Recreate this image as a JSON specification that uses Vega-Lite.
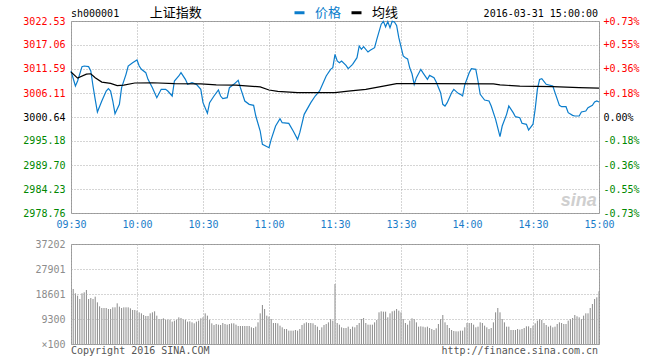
{
  "$schema": "https://vega.github.io/schema/vega-lite/v6.json",
  "background": "white",
  "padding": {"left": 22, "top": 5, "right": 0, "bottom": 0},
  "spacing": 8,
  "config": {
    "view": {"stroke": "#999", "strokeWidth": 1},
    "font": "DejaVu Sans Mono",
    "axis": {"labelFont": "DejaVu Sans Mono", "labelFontSize": 10, "gridColor": "#aaa", "gridDash": [1, 2], "gridWidth": 1, "domain": false, "ticks": false, "title": null}
  },
  "datasets": {
    "price": [
      {"m":0,"p":3011.13,"s":"价格"},{"m":2,"p":3007.71,"s":"价格"},{"m":3,"p":3008.85,"s":"价格"},{"m":5,"p":3012.12,"s":"价格"},{"m":6,"p":3012.27,"s":"价格"},{"m":8,"p":3012.12,"s":"价格"},{"m":9,"p":3011.13,"s":"价格"},{"m":10,"p":3007.71,"s":"价格"},{"m":11,"p":3004.67,"s":"价格"},{"m":12,"p":3001.78,"s":"价格"},{"m":14,"p":3004.29,"s":"价格"},{"m":16,"p":3006.57,"s":"价格"},{"m":17,"p":3007.10,"s":"价格"},{"m":18,"p":3006.57,"s":"价格"},{"m":19,"p":3004.29,"s":"价格"},{"m":20,"p":3001.40,"s":"价格"},{"m":22,"p":3003.53,"s":"价格"},{"m":23,"p":3007.33,"s":"价格"},{"m":25,"p":3010.37,"s":"价格"},{"m":26,"p":3012.27,"s":"价格"},{"m":28,"p":3013.03,"s":"价格"},{"m":30,"p":3013.64,"s":"价格"},{"m":31,"p":3012.27,"s":"价格"},{"m":32,"p":3011.51,"s":"价格"},{"m":34,"p":3010.75,"s":"价格"},{"m":35,"p":3009.23,"s":"价格"},{"m":37,"p":3007.33,"s":"价格"},{"m":39,"p":3005.05,"s":"价格"},{"m":41,"p":3006.95,"s":"价格"},{"m":43,"p":3006.95,"s":"价格"},{"m":44,"p":3006.57,"s":"价格"},{"m":46,"p":3005.43,"s":"价格"},{"m":47,"p":3008.85,"s":"价格"},{"m":49,"p":3009.99,"s":"价格"},{"m":50,"p":3010.75,"s":"价格"},{"m":52,"p":3009.23,"s":"价格"},{"m":53,"p":3008.09,"s":"价格"},{"m":55,"p":3008.47,"s":"价格"},{"m":57,"p":3008.09,"s":"价格"},{"m":59,"p":3006.95,"s":"价格"},{"m":60,"p":3003.91,"s":"价格"},{"m":62,"p":3001.48,"s":"价格"},{"m":63,"p":3003.91,"s":"价格"},{"m":65,"p":3005.43,"s":"价格"},{"m":67,"p":3006.80,"s":"价格"},{"m":68,"p":3005.43,"s":"价格"},{"m":69,"p":3004.82,"s":"价格"},{"m":71,"p":3005.05,"s":"价格"},{"m":72,"p":3007.33,"s":"价格"},{"m":74,"p":3008.09,"s":"价格"},{"m":76,"p":3009.00,"s":"价格"},{"m":77,"p":3007.33,"s":"价格"},{"m":79,"p":3004.29,"s":"价格"},{"m":81,"p":3003.53,"s":"价格"},{"m":83,"p":3003.30,"s":"价格"},{"m":84,"p":3000.87,"s":"价格"},{"m":86,"p":2997.45,"s":"价格"},{"m":87,"p":2994.41,"s":"价格"},{"m":90,"p":2993.65,"s":"价格"},{"m":91,"p":2995.55,"s":"价格"},{"m":93,"p":2998.59,"s":"价格"},{"m":95,"p":3000.26,"s":"价格"},{"m":96,"p":2999.35,"s":"价格"},{"m":99,"p":2999.20,"s":"价格"},{"m":101,"p":2997.45,"s":"价格"},{"m":103,"p":2995.55,"s":"价格"},{"m":104,"p":2997.07,"s":"价格"},{"m":106,"p":3001.25,"s":"价格"},{"m":109,"p":3003.91,"s":"价格"},{"m":111,"p":3005.43,"s":"价格"},{"m":113,"p":3006.57,"s":"价格"},{"m":115,"p":3008.85,"s":"价格"},{"m":116,"p":3009.99,"s":"价格"},{"m":118,"p":3011.51,"s":"价格"},{"m":119,"p":3011.89,"s":"价格"},{"m":120,"p":3014.93,"s":"价格"},{"m":121,"p":3013.41,"s":"价格"},{"m":122,"p":3013.03,"s":"价格"},{"m":123,"p":3013.41,"s":"价格"},{"m":125,"p":3012.42,"s":"价格"},{"m":126,"p":3011.66,"s":"价格"},{"m":128,"p":3012.65,"s":"价格"},{"m":130,"p":3014.17,"s":"价格"},{"m":131,"p":3016.83,"s":"价格"},{"m":132,"p":3016.07,"s":"价格"},{"m":133,"p":3016.68,"s":"价格"},{"m":135,"p":3015.46,"s":"价格"},{"m":136,"p":3015.84,"s":"价格"},{"m":138,"p":3016.45,"s":"价格"},{"m":139,"p":3018.35,"s":"价格"},{"m":141,"p":3021.80,"s":"价格"},{"m":142,"p":3022.45,"s":"价格"},{"m":143,"p":3021.20,"s":"价格"},{"m":144,"p":3022.40,"s":"价格"},{"m":145,"p":3021.00,"s":"价格"},{"m":146,"p":3022.45,"s":"价格"},{"m":147,"p":3022.30,"s":"价格"},{"m":148,"p":3021.50,"s":"价格"},{"m":149,"p":3018.73,"s":"价格"},{"m":151,"p":3014.55,"s":"价格"},{"m":152,"p":3014.17,"s":"价格"},{"m":153,"p":3013.90,"s":"价格"},{"m":154,"p":3011.80,"s":"价格"},{"m":155,"p":3010.50,"s":"价格"},{"m":156,"p":3008.09,"s":"价格"},{"m":157,"p":3009.61,"s":"价格"},{"m":159,"p":3011.51,"s":"价格"},{"m":160,"p":3010.70,"s":"价格"},{"m":162,"p":3009.23,"s":"价格"},{"m":163,"p":3010.14,"s":"价格"},{"m":165,"p":3009.61,"s":"价格"},{"m":166,"p":3008.60,"s":"价格"},{"m":168,"p":3006.19,"s":"价格"},{"m":169,"p":3003.53,"s":"价格"},{"m":170,"p":3003.15,"s":"价格"},{"m":171,"p":3003.91,"s":"价格"},{"m":173,"p":3006.19,"s":"价格"},{"m":174,"p":3006.95,"s":"价格"},{"m":176,"p":3006.04,"s":"价格"},{"m":177,"p":3005.81,"s":"价格"},{"m":178,"p":3005.43,"s":"价格"},{"m":179,"p":3008.00,"s":"价格"},{"m":181,"p":3010.75,"s":"价格"},{"m":182,"p":3011.66,"s":"价格"},{"m":184,"p":3011.51,"s":"价格"},{"m":185,"p":3008.85,"s":"价格"},{"m":186,"p":3005.81,"s":"价格"},{"m":188,"p":3004.52,"s":"价格"},{"m":190,"p":3004.29,"s":"价格"},{"m":191,"p":3003.15,"s":"价格"},{"m":193,"p":3000.11,"s":"价格"},{"m":195,"p":2996.16,"s":"价格"},{"m":196,"p":2998.59,"s":"价格"},{"m":198,"p":3001.25,"s":"价格"},{"m":199,"p":3003.15,"s":"价格"},{"m":201,"p":3001.63,"s":"价格"},{"m":202,"p":3000.72,"s":"价格"},{"m":204,"p":3000.49,"s":"价格"},{"m":205,"p":2999.20,"s":"价格"},{"m":207,"p":2998.97,"s":"价格"},{"m":208,"p":2997.68,"s":"价格"},{"m":210,"p":2999.00,"s":"价格"},{"m":211,"p":3002.50,"s":"价格"},{"m":212,"p":3007.00,"s":"价格"},{"m":213,"p":3009.20,"s":"价格"},{"m":214,"p":3009.38,"s":"价格"},{"m":216,"p":3008.09,"s":"价格"},{"m":219,"p":3007.71,"s":"价格"},{"m":220,"p":3006.19,"s":"价格"},{"m":222,"p":3003.30,"s":"价格"},{"m":223,"p":3003.00,"s":"价格"},{"m":225,"p":3003.00,"s":"价格"},{"m":226,"p":3001.63,"s":"价格"},{"m":228,"p":3001.02,"s":"价格"},{"m":229,"p":3000.87,"s":"价格"},{"m":231,"p":3000.87,"s":"价格"},{"m":232,"p":3001.78,"s":"价格"},{"m":234,"p":3002.01,"s":"价格"},{"m":235,"p":3002.77,"s":"价格"},{"m":237,"p":3003.30,"s":"价格"},{"m":238,"p":3004.06,"s":"价格"},{"m":239,"p":3004.30,"s":"价格"},{"m":240,"p":3004.06,"s":"价格"},
      {"m":0,"p":3010.9,"s":"均线"},{"m":3,"p":3009.5,"s":"均线"},{"m":7,"p":3010.4,"s":"均线"},{"m":9,"p":3010.5,"s":"均线"},{"m":11,"p":3009.6,"s":"均线"},{"m":14,"p":3008.6,"s":"均线"},{"m":18,"p":3008.3,"s":"均线"},{"m":21,"p":3007.8,"s":"均线"},{"m":24,"p":3007.9,"s":"均线"},{"m":29,"p":3008.4,"s":"均线"},{"m":37,"p":3008.45,"s":"均线"},{"m":47,"p":3008.25,"s":"均线"},{"m":59,"p":3008.2,"s":"均线"},{"m":66,"p":3007.95,"s":"均线"},{"m":75,"p":3007.9,"s":"均线"},{"m":81,"p":3007.7,"s":"均线"},{"m":86,"p":3007.5,"s":"均线"},{"m":90,"p":3006.8,"s":"均线"},{"m":94,"p":3006.5,"s":"均线"},{"m":103,"p":3006.2,"s":"均线"},{"m":120,"p":3006.2,"s":"均线"},{"m":126,"p":3006.55,"s":"均线"},{"m":134,"p":3006.95,"s":"均线"},{"m":142,"p":3007.7,"s":"均线"},{"m":148,"p":3008.25,"s":"均线"},{"m":164,"p":3008.25,"s":"均线"},{"m":192,"p":3008.2,"s":"均线"},{"m":195,"p":3007.95,"s":"均线"},{"m":204,"p":3007.7,"s":"均线"},{"m":219,"p":3007.55,"s":"均线"},{"m":231,"p":3007.35,"s":"均线"},{"m":240,"p":3007.25,"s":"均线"}
    ],
    "volume": [
      {"m":1,"v":20460},{"m":2,"v":18848},{"m":3,"v":17980},{"m":4,"v":16740},{"m":5,"v":18848},{"m":6,"v":19220},{"m":7,"v":20088},{"m":8,"v":16740},{"m":9,"v":17112},{"m":10,"v":16740},
      {"m":11,"v":17608},{"m":12,"v":15500},{"m":13,"v":14012},{"m":14,"v":13392},{"m":15,"v":13392},{"m":16,"v":13392},{"m":17,"v":13020},{"m":18,"v":13020},{"m":19,"v":13640},{"m":20,"v":13640},
      {"m":21,"v":15128},{"m":22,"v":13888},{"m":23,"v":13392},{"m":24,"v":13640},{"m":25,"v":13640},{"m":26,"v":13640},{"m":27,"v":13268},{"m":28,"v":12648},{"m":29,"v":12648},{"m":30,"v":12400},
      {"m":31,"v":11780},{"m":32,"v":11408},{"m":33,"v":10788},{"m":34,"v":10416},{"m":35,"v":10416},{"m":36,"v":11408},{"m":37,"v":11780},{"m":38,"v":12152},{"m":39,"v":10540},{"m":40,"v":9300},
      {"m":41,"v":9300},{"m":42,"v":9548},{"m":43,"v":9052},{"m":44,"v":9052},{"m":45,"v":9052},{"m":46,"v":8308},{"m":47,"v":8680},{"m":48,"v":9052},{"m":49,"v":9920},{"m":50,"v":9672},
      {"m":51,"v":9176},{"m":52,"v":9052},{"m":53,"v":8308},{"m":54,"v":8432},{"m":55,"v":8060},{"m":56,"v":7688},{"m":57,"v":8308},{"m":58,"v":8680},{"m":59,"v":9548},{"m":60,"v":9920},
      {"m":61,"v":11408},{"m":62,"v":10540},{"m":63,"v":9052},{"m":64,"v":7688},{"m":65,"v":7068},{"m":66,"v":7440},{"m":67,"v":7192},{"m":68,"v":7068},{"m":69,"v":7812},{"m":70,"v":7440},
      {"m":71,"v":7192},{"m":72,"v":7440},{"m":73,"v":7688},{"m":74,"v":7688},{"m":75,"v":7192},{"m":76,"v":6696},{"m":77,"v":6696},{"m":78,"v":6696},{"m":79,"v":6696},{"m":80,"v":6696},
      {"m":81,"v":6696},{"m":82,"v":6200},{"m":83,"v":5952},{"m":84,"v":6448},{"m":85,"v":8060},{"m":86,"v":11408},{"m":87,"v":14508},{"m":88,"v":13020},{"m":89,"v":10540},{"m":90,"v":10168},
      {"m":91,"v":9300},{"m":92,"v":7812},{"m":93,"v":7812},{"m":94,"v":7688},{"m":95,"v":6820},{"m":96,"v":6200},{"m":97,"v":5580},{"m":98,"v":5580},{"m":99,"v":4960},{"m":100,"v":4960},
      {"m":101,"v":4960},{"m":102,"v":5208},{"m":103,"v":4960},{"m":104,"v":5580},{"m":105,"v":7068},{"m":106,"v":7688},{"m":107,"v":8060},{"m":108,"v":7812},{"m":109,"v":7812},{"m":110,"v":7688},
      {"m":111,"v":7068},{"m":112,"v":6448},{"m":113,"v":5208},{"m":114,"v":6200},{"m":115,"v":7068},{"m":116,"v":7440},{"m":117,"v":8060},{"m":118,"v":9300},{"m":119,"v":8680},{"m":120,"v":22320},
      {"m":121,"v":7812},{"m":122,"v":7192},{"m":123,"v":6200},{"m":124,"v":5952},{"m":125,"v":5952},{"m":126,"v":6448},{"m":127,"v":5580},{"m":128,"v":6448},{"m":129,"v":6200},{"m":130,"v":7068},
      {"m":131,"v":7812},{"m":132,"v":9300},{"m":133,"v":9672},{"m":134,"v":7812},{"m":135,"v":7192},{"m":136,"v":7192},{"m":137,"v":7192},{"m":138,"v":8060},{"m":139,"v":8928},{"m":140,"v":11780},
      {"m":141,"v":12152},{"m":142,"v":12028},{"m":143,"v":12028},{"m":144,"v":9920},{"m":145,"v":11408},{"m":146,"v":12152},{"m":147,"v":12400},{"m":148,"v":13020},{"m":149,"v":12400},{"m":150,"v":11780},
      {"m":151,"v":9300},{"m":152,"v":7812},{"m":153,"v":7192},{"m":154,"v":8680},{"m":155,"v":9548},{"m":156,"v":9300},{"m":157,"v":8060},{"m":158,"v":6448},{"m":159,"v":6572},{"m":160,"v":6448},
      {"m":161,"v":6200},{"m":162,"v":6448},{"m":163,"v":5952},{"m":164,"v":5580},{"m":165,"v":5208},{"m":166,"v":5828},{"m":167,"v":7440},{"m":168,"v":9300},{"m":169,"v":10788},{"m":170,"v":8060},
      {"m":171,"v":7068},{"m":172,"v":5952},{"m":173,"v":5208},{"m":174,"v":4836},{"m":175,"v":4712},{"m":176,"v":4712},{"m":177,"v":4960},{"m":178,"v":4960},{"m":179,"v":6200},{"m":180,"v":7812},
      {"m":181,"v":7812},{"m":182,"v":7812},{"m":183,"v":7192},{"m":184,"v":6200},{"m":185,"v":6448},{"m":186,"v":8060},{"m":187,"v":7812},{"m":188,"v":6820},{"m":189,"v":6200},{"m":190,"v":5580},
      {"m":191,"v":5952},{"m":192,"v":8060},{"m":193,"v":11780},{"m":194,"v":13392},{"m":195,"v":11780},{"m":196,"v":9300},{"m":197,"v":8060},{"m":198,"v":6448},{"m":199,"v":6448},{"m":200,"v":5208},
      {"m":201,"v":5208},{"m":202,"v":5208},{"m":203,"v":5580},{"m":204,"v":5332},{"m":205,"v":5580},{"m":206,"v":5952},{"m":207,"v":6572},{"m":208,"v":6572},{"m":209,"v":5952},{"m":210,"v":6820},
      {"m":211,"v":7688},{"m":212,"v":8680},{"m":213,"v":9300},{"m":214,"v":8928},{"m":215,"v":7812},{"m":216,"v":7068},{"m":217,"v":6448},{"m":218,"v":6820},{"m":219,"v":6200},{"m":220,"v":6448},
      {"m":221,"v":7440},{"m":222,"v":8060},{"m":223,"v":7812},{"m":224,"v":7440},{"m":225,"v":7440},{"m":226,"v":8680},{"m":227,"v":9300},{"m":228,"v":9672},{"m":229,"v":10788},{"m":230,"v":10292},
      {"m":231,"v":9920},{"m":232,"v":9300},{"m":233,"v":10540},{"m":234,"v":11408},{"m":235,"v":11408},{"m":236,"v":13392},{"m":237,"v":14880},{"m":238,"v":16740},{"m":239,"v":17360},{"m":240,"v":19592}
    ]
  },
  "resolve": {"legend": {"color": "independent"}},
  "vconcat": [
    {
      "width": 528,
      "height": 192,
      "resolve": {"axis": {"y": "independent"}},
      "layer": [
        {
          "data": {"name": "price"},
          "mark": {"type": "line", "strokeWidth": 1.2},
          "encoding": {
            "x": {"field": "m", "type": "quantitative",
              "scale": {"domain": [0, 240], "nice": false, "zero": false},
              "axis": {"values": [0, 30, 60, 90, 120, 150, 180, 210, 240], "tickCount": 9, "labelExpr": "['09:30','10:00','10:30','11:00','11:30','13:30','14:00','14:30','15:00'][round(datum.value/30)]", "grid": true, "labelColor": "#1a7cc9", "labelPadding": 6, "labelOverlap": false, "labelFlush": false}},
            "y": {"field": "p", "type": "quantitative",
              "scale": {"domain": [2978.76, 3022.53], "nice": false, "zero": false},
              "axis": {"orient": "left", "values": [2978.76, 2984.23, 2989.70, 2995.18, 3000.64, 3006.11, 3011.59, 3017.06, 3022.53], "tickCount": 9, "format": ".2f", "grid": true, "labelPadding": 6, "labelOverlap": false, "labelFlush": false,
                "labelColor": {"condition": [{"test": "datum.value > 3001", "value": "#f00"}, {"test": "datum.value < 3000", "value": "#080"}], "value": "#000"}}},
            "color": {"field": "s", "type": "nominal",
              "scale": {"domain": ["价格", "均线"], "range": ["#0b7dcc", "#000000"]},
              "legend": {"orient": "none", "legendX": 222, "legendY": -15, "direction": "horizontal", "title": null, "padding": 0,
                "symbolType": "stroke", "symbolSize": 100, "symbolStrokeWidth": 3, "labelFont": "Noto Sans CJK SC", "labelFontSize": 13, "labelOffset": 9, "columnPadding": 3,
                "encode": {"labels": {"update": {"fill": {"signal": "datum.label === '价格' ? '#0b7dcc' : '#000000'"}}}}}}
          }
        },
        {
          "mark": {"type": "rule", "color": "#000", "strokeDash": [2, 2], "strokeWidth": 1},
          "encoding": {
            "y": {"datum": 3000.64, "type": "quantitative",
              "scale": {"domain": [2978.76, 3022.53], "nice": false, "zero": false},
              "axis": {"orient": "right", "values": [2978.76, 2984.23, 2989.70, 2995.18, 3000.64, 3006.11, 3011.59, 3017.06, 3022.53], "tickCount": 9, "grid": false, "labelPadding": 4, "labelOverlap": false, "labelFlush": false,
                "labelExpr": "abs(datum.value-3000.64) < 0.01 ? '0.00%' : (datum.value > 3000.64 ? '+' : '-') + format(abs(datum.value-3000.64)/3000.64*100, '.2f') + '%'",
                "labelColor": {"condition": [{"test": "datum.value > 3001", "value": "#f00"}, {"test": "datum.value < 3000", "value": "#080"}], "value": "#000"}}}
          }
        },
        {
          "data": {"values": [{}]},
          "mark": {"type": "text", "align": "left", "baseline": "alphabetic", "dy": -4, "font": "DejaVu Sans Mono", "fontSize": 10, "color": "#000"},
          "encoding": {
            "x": {"datum": 0, "type": "quantitative"},
            "y": {"datum": 3022.53, "type": "quantitative", "axis": null},
            "text": {"value": "sh000001"}
          }
        },
        {
          "data": {"values": [{}]},
          "mark": {"type": "text", "align": "left", "baseline": "alphabetic", "dy": -4, "font": "Noto Sans CJK SC", "fontSize": 13, "color": "#000"},
          "encoding": {
            "x": {"datum": 35.8, "type": "quantitative"},
            "y": {"datum": 3022.53, "type": "quantitative", "axis": null},
            "text": {"value": "上证指数"}
          }
        },
        {
          "data": {"values": [{}]},
          "mark": {"type": "text", "align": "right", "baseline": "alphabetic", "dy": -4, "dx": -1, "font": "DejaVu Sans Mono", "fontSize": 10, "color": "#000"},
          "encoding": {
            "x": {"datum": 240, "type": "quantitative"},
            "y": {"datum": 3022.53, "type": "quantitative", "axis": null},
            "text": {"value": "2016-03-31 15:00:00"}
          }
        },
        {
          "data": {"values": [{}]},
          "mark": {"type": "text", "align": "right", "baseline": "alphabetic", "font": "Liberation Sans", "fontSize": 18, "fontStyle": "italic", "fontWeight": "bold", "color": "#cfcfcf"},
          "encoding": {
            "x": {"datum": 239, "type": "quantitative"},
            "y": {"datum": 2980.4, "type": "quantitative", "axis": null},
            "text": {"value": "sina"}
          }
        }
      ]
    },
    {
      "width": 528,
      "height": 100,
      "layer": [
        {
          "data": {"name": "volume"},
          "mark": {"type": "rule", "color": "#8a8a8a", "strokeWidth": 1},
          "encoding": {
            "x": {"field": "m", "type": "quantitative",
              "scale": {"domain": [0, 240], "nice": false, "zero": false},
              "axis": {"values": [0, 30, 60, 90, 120, 150, 180, 210, 240], "tickCount": 9, "grid": true, "labels": false, "zindex": 1}},
            "y": {"field": "v", "type": "quantitative",
              "scale": {"domain": [0, 37202], "nice": false},
              "axis": {"values": [0, 9300, 18601, 27901, 37202], "tickCount": 5, "grid": true, "zindex": 1, "labelPadding": 6, "labelColor": "#8c8c8c", "labelOverlap": false, "labelFlush": false,
                "labelExpr": "datum.value == 0 ? '×100' : '' + datum.value"}},
            "y2": {"datum": 0}
          }
        },
        {
          "data": {"values": [{}]},
          "mark": {"type": "text", "align": "left", "baseline": "top", "dy": 2, "font": "DejaVu Sans Mono", "fontSize": 10, "color": "#555"},
          "encoding": {
            "x": {"datum": 0, "type": "quantitative"},
            "y": {"datum": 0, "type": "quantitative"},
            "text": {"value": "Copyright 2016 SINA.COM"}
          }
        },
        {
          "data": {"values": [{}]},
          "mark": {"type": "text", "align": "right", "baseline": "top", "dy": 2, "dx": -1, "font": "DejaVu Sans Mono", "fontSize": 10, "color": "#555"},
          "encoding": {
            "x": {"datum": 240, "type": "quantitative"},
            "y": {"datum": 0, "type": "quantitative"},
            "text": {"value": "http://finance.sina.com.cn"}
          }
        }
      ]
    }
  ]
}
